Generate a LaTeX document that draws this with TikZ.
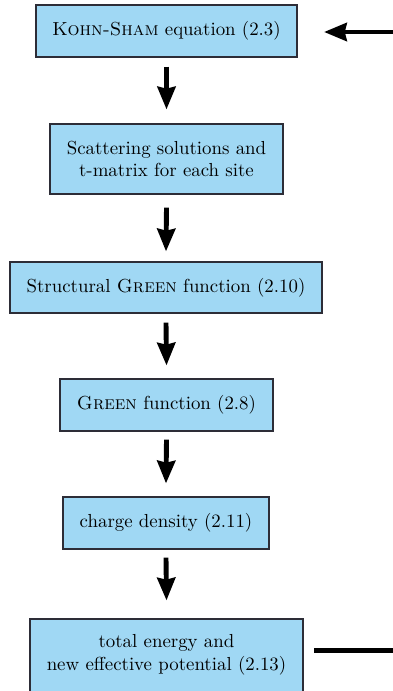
\documentclass[tikz,border=0pt]{standalone}
\usetikzlibrary{arrows.meta}
\definecolor{boxfill}{RGB}{160,216,244}
\definecolor{boxline}{RGB}{45,45,55}
\def\pxu{0.53}
\begin{document}
\begin{tikzpicture}[x=0.53pt,y=-0.53pt,
  box/.style={draw=boxline,fill=boxfill,line width=0.6pt,inner sep=0pt,align=center,font=\normalsize},
  plain/.style={inner sep=0pt,align=center,font=\normalsize},
  arr/.style={line width=2.6pt,-{Stealth[length=12pt,width=9.5pt,inset=1pt]}},
  fb/.style={line width=2.6pt}]
\useasboundingbox (0,0) rectangle (393,691);
\node[box,minimum width={261*\pxu pt},minimum height={52*\pxu pt}] (B1) at (166.5,31) {\textsc{Kohn-Sham} equation (2.3)};
\node[box,minimum width={233*\pxu pt},minimum height={70*\pxu pt}] (B2) at (166.5,159) {Scattering solutions and\\t-matrix for each site};
\node[box,minimum width={312*\pxu pt},minimum height={51*\pxu pt}] (B3) at (166,287.5) {Structural \textsc{Green} function (2.10)};
\node[box,minimum width={213*\pxu pt},minimum height={52*\pxu pt}] (B4) at (166.5,405) {\textsc{Green} function (2.8)};
\node[box,minimum width={206*\pxu pt},minimum height={52*\pxu pt}] (B5) at (166,523) {charge density (2.11)};
\node[box,minimum width={273*\pxu pt},minimum height={84*\pxu pt}] (B6) at (166.5,661) {};
\node[plain] (B6t) at (166.5,655) {total energy and\\new effective potential (2.13)};
\draw[arr] ([yshift={-9*\pxu pt}]B1.south) -- ([yshift={14*\pxu pt}]B2.north);
\draw[arr] ([yshift={-13*\pxu pt}]B2.south) -- ([yshift={10*\pxu pt}]B3.north);
\draw[arr] ([yshift={-9*\pxu pt}]B3.south) -- ([yshift={13*\pxu pt}]B4.north);
\draw[arr] ([yshift={-8*\pxu pt}]B4.south) -- ([yshift={13*\pxu pt}]B5.north);
\draw[arr] ([yshift={-8*\pxu pt}]B5.south) -- ([yshift={18*\pxu pt}]B6.north);
\coordinate (inR) at (400,32);
\coordinate (inT) at (324,32);
\draw[arr] (inR) -- (inT);
\coordinate (outL) at (314,650.5);
\coordinate (outR) at (400,650.5);
\draw[fb] (outL) -- (outR);
\end{tikzpicture}
\end{document}
